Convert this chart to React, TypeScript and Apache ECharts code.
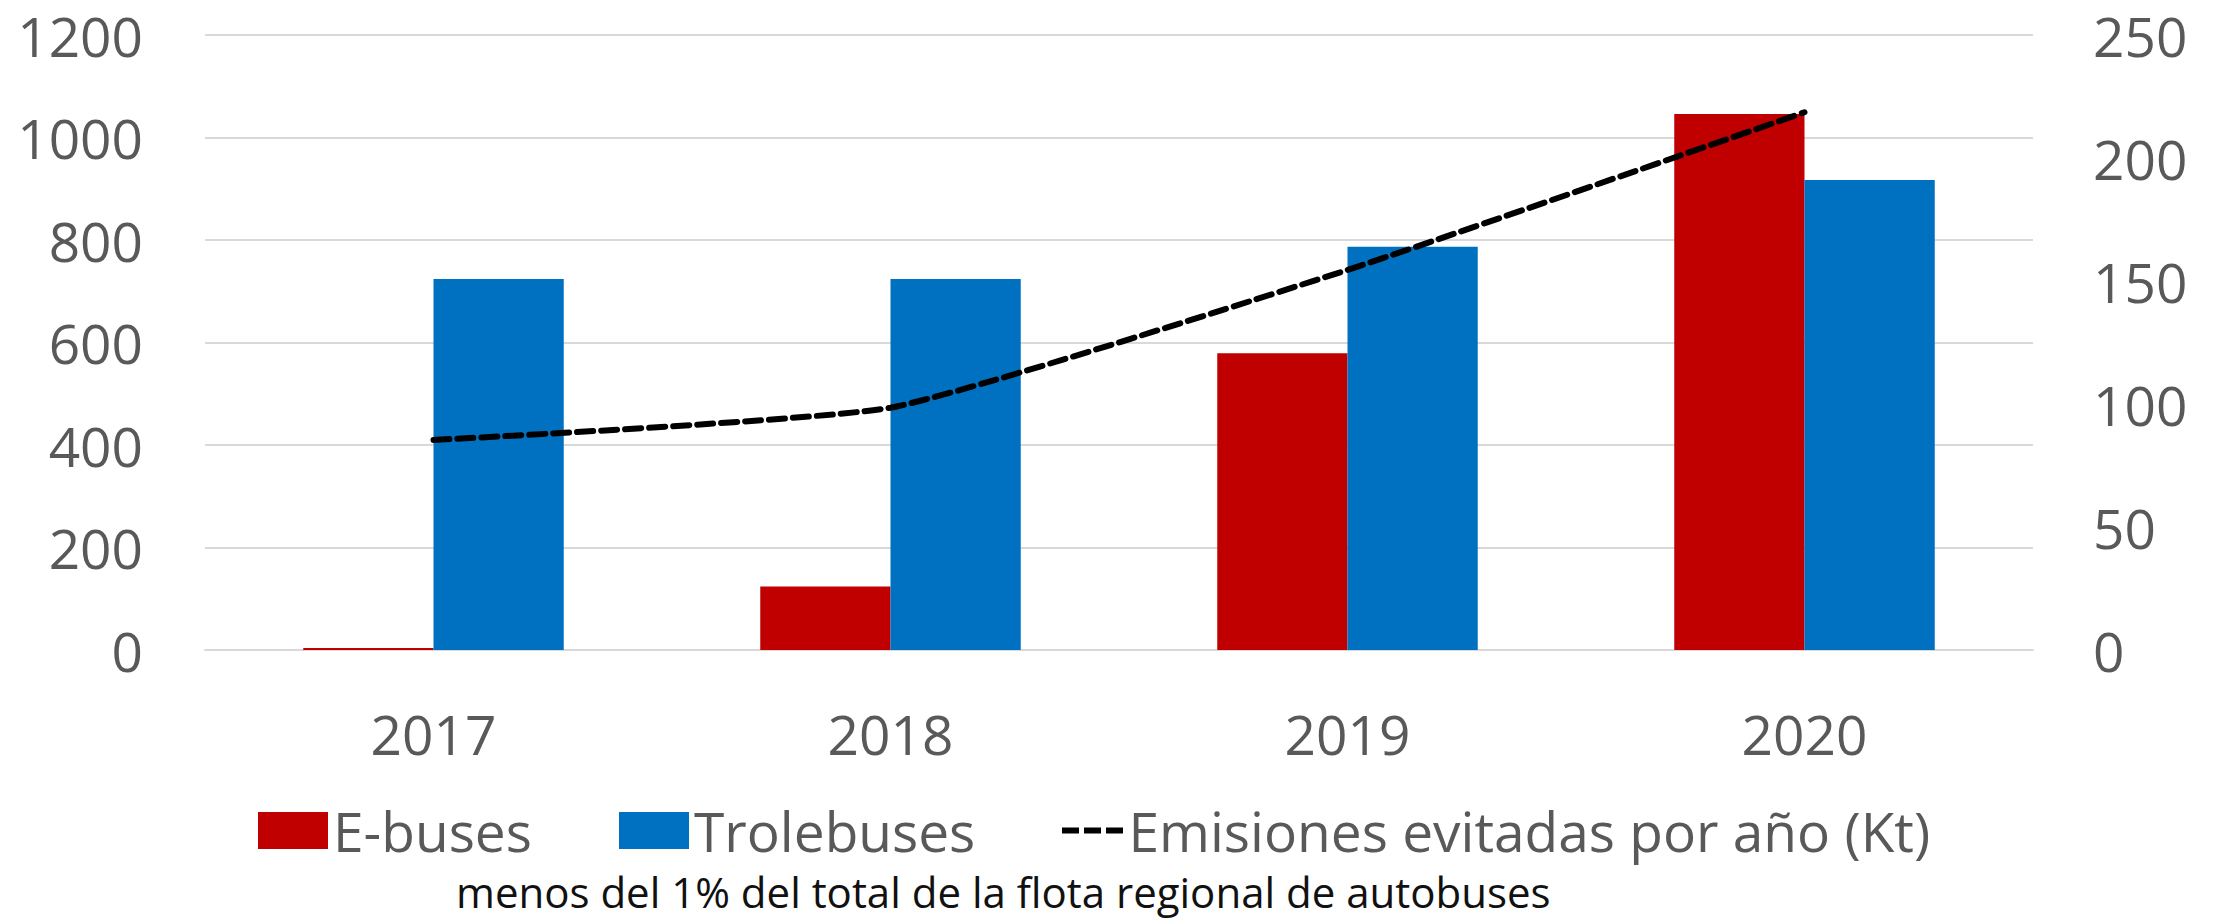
import React, { useEffect, useRef } from "react";
import * as echarts from "echarts";

const years = ["2017", "2018", "2019", "2020"];
const eBuses = [4, 124, 579, 1046];
const trolebuses = [724, 724, 787, 917];
const emisiones = [85.4, 98.5, 154.5, 218.6];
const leftTicks = { min: 0, max: 1200, interval: 200 };
const rightTicks = { min: 0, max: 250, interval: 50 };
const footNote = "menos del 1% del total de la flota regional de autobuses";

const FONT = "'Open Sans', 'Noto Sans', sans-serif";
const GREY = "#595959";
const DASH_ICON = "path://M0,0h17v6h-17z M22,0h17v6h-17z M44,0h17v6h-17z";

export default function App() {
  const ref = useRef<HTMLDivElement>(null);
  useEffect(() => {
    if (!ref.current) return;
    const chart = echarts.init(ref.current, undefined, { renderer: "svg" });
    const legendText = { color: GREY, fontSize: 55, fontFamily: FONT };
    const plain = (v: number) => String(v);
    chart.setOption({
      animation: false,
      backgroundColor: "#ffffff",
      textStyle: { fontFamily: FONT },
      grid: { left: 205, right: 188, top: 35, bottom: 269, containLabel: false },
      xAxis: {
        type: "category",
        data: years,
        axisLine: { show: true, lineStyle: { color: "#D9D9D9", width: 2 } },
        axisTick: { show: false },
        axisLabel: { color: GREY, fontSize: 55, fontFamily: FONT, margin: 56 },
      },
      yAxis: [
        {
          type: "value",
          ...leftTicks,
          axisLine: { show: false },
          axisTick: { show: false },
          splitLine: { lineStyle: { color: "#D9D9D9", width: 2 } },
          axisLabel: {
            color: GREY,
            fontSize: 55,
            lineHeight: 58,
            fontFamily: FONT,
            margin: 62,
            formatter: plain,
          },
        },
        {
          type: "value",
          ...rightTicks,
          position: "right",
          axisLine: { show: false },
          axisTick: { show: false },
          splitLine: { show: false },
          axisLabel: {
            color: GREY,
            fontSize: 55,
            lineHeight: 58,
            fontFamily: FONT,
            margin: 60,
            formatter: plain,
          },
        },
      ],
      legend: [
        {
          data: [{ name: "E-buses", icon: "rect" }],
          left: 258,
          top: 803,
          itemWidth: 70,
          itemHeight: 37,
          textStyle: legendText,
          padding: 0,
        },
        {
          data: [{ name: "Trolebuses", icon: "rect" }],
          left: 619,
          top: 803,
          itemWidth: 70,
          itemHeight: 37,
          textStyle: legendText,
          padding: 0,
        },
        {
          data: [{ name: "Emisiones evitadas por año (Kt)", icon: DASH_ICON }],
          left: 1062,
          top: 803,
          itemWidth: 62,
          itemHeight: 6,
          textStyle: legendText,
          padding: 0,
        },
      ],
      series: [
        {
          name: "E-buses",
          type: "bar",
          data: eBuses,
          itemStyle: { color: "#C00000" },
          barGap: "0%",
          barCategoryGap: "43%",
        },
        {
          name: "Trolebuses",
          type: "bar",
          data: trolebuses,
          itemStyle: { color: "#0070C0" },
          barGap: "0%",
          barCategoryGap: "43%",
        },
        {
          name: "Emisiones evitadas por año (Kt)",
          type: "line",
          yAxisIndex: 1,
          data: emisiones,
          smooth: 0.15,
          symbol: "none",
          lineStyle: { color: "#000000", width: 6, type: [16, 8], cap: "round" },
          itemStyle: { color: "#000000" },
        },
      ],
      graphic: [
        {
          type: "text",
          left: 456,
          top: 870,
          style: { text: footNote, fill: "#111111", fontSize: 42, fontFamily: FONT },
        },
      ],
    });
    return () => chart.dispose();
  }, []);
  return (
    <div
      ref={ref}
      style={{ position: "fixed", left: 0, top: 0, width: 2221, height: 919, background: "#fff" }}
    />
  );
}
